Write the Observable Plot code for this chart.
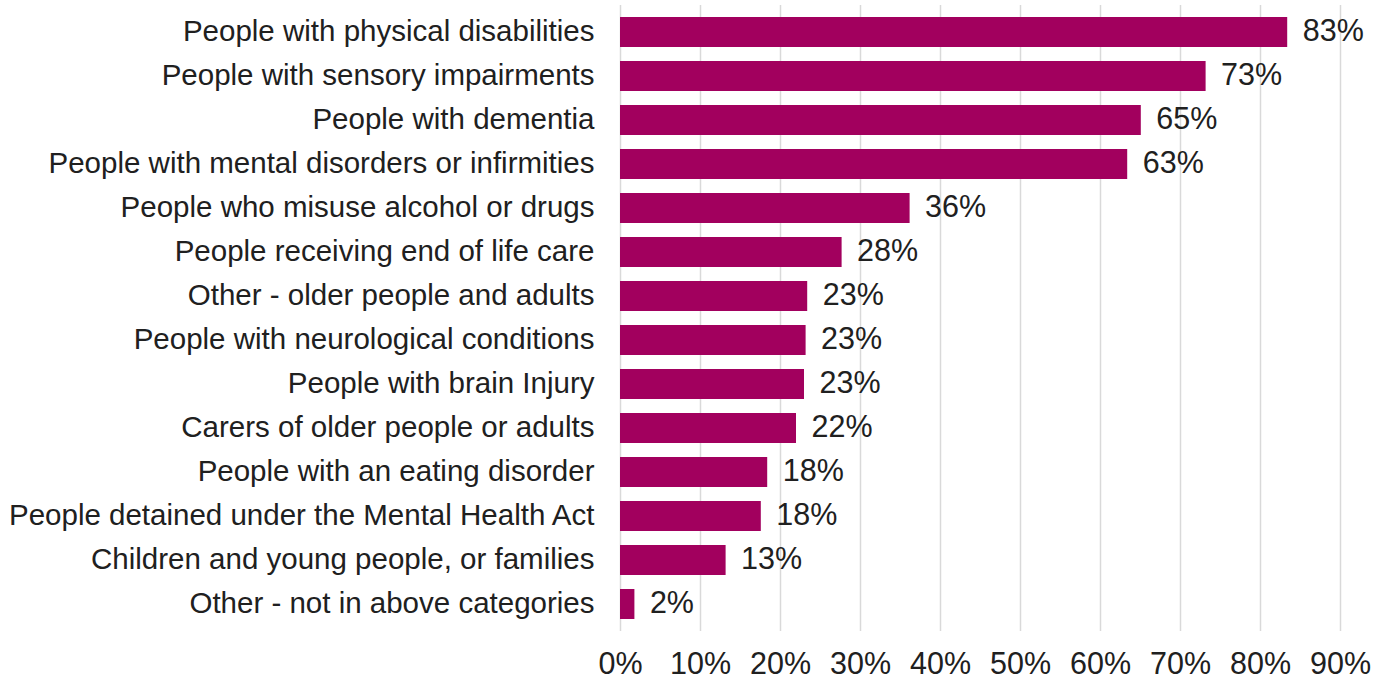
<!DOCTYPE html>
<html>
<head>
<meta charset="utf-8">
<script src="https://cdn.jsdelivr.net/npm/d3@7"></script>
<script src="https://cdn.jsdelivr.net/npm/@observablehq/plot@0.6"></script>
<style>
  html, body { margin: 0; padding: 0; background: #fff; }
  #chart { width: 1388px; height: 679px; }
</style>
</head>
<body>
<div id="chart"></div>
<script>
const categories = [
  "People with physical disabilities",
  "People with sensory impairments",
  "People with dementia",
  "People with mental disorders or infirmities",
  "People who misuse alcohol or drugs",
  "People receiving end of life care",
  "Other - older people and adults",
  "People with neurological conditions",
  "People with brain Injury",
  "Carers of older people or adults",
  "People with an eating disorder",
  "People detained under the Mental Health Act",
  "Children and young people, or families",
  "Other - not in above categories"
];
const values = [83.4, 73.2, 65.1, 63.4, 36.2, 27.7, 23.4, 23.2, 23.0, 22.0, 18.4, 17.6, 13.2, 1.8];
const xTicks = [0, 10, 20, 30, 40, 50, 60, 70, 80, 90];

const data = categories.map((c, i) => ({category: c, value: values[i]}));
const font = "Liberation Sans, Arial, sans-serif";
const textColor = "#202020";
const fs = 29.5;
const fsNum = 30.5;

const chart = Plot.plot({
  width: 1388,
  height: 679,
  marginLeft: 620,
  marginRight: 48,
  marginTop: 8,
  marginBottom: 51,
  style: {fontFamily: font, fontSize: fs + "px", color: textColor, background: "#fff"},
  x: {domain: [0, 90], ticks: xTicks},
  y: {domain: categories, paddingInner: 0.32, paddingOuter: 0.15},
  marks: [
    Plot.ruleX(xTicks, {x: d => d, stroke: "#d9d9d9", strokeWidth: 1.5, insetTop: -3, insetBottom: -3}),
    Plot.barX(data, {x: "value", y: "category", fill: "#a2005e"}),
    Plot.text(data, {x: "value", y: "category", text: d => Math.round(d.value) + "%", dx: 15, dy: -1, textAnchor: "start", fontSize: fsNum, fill: textColor}),
    Plot.axisX(xTicks, {tickSize: 0, tickPadding: 24, tickFormat: d => d + "%", fontSize: fsNum, fill: textColor, label: null}),
    Plot.axisY({tickSize: 0, tickPadding: 26, fontSize: fs, fill: textColor, label: null, dy: -1})
  ]
});
document.getElementById("chart").appendChild(chart);
</script>
</body>
</html>
